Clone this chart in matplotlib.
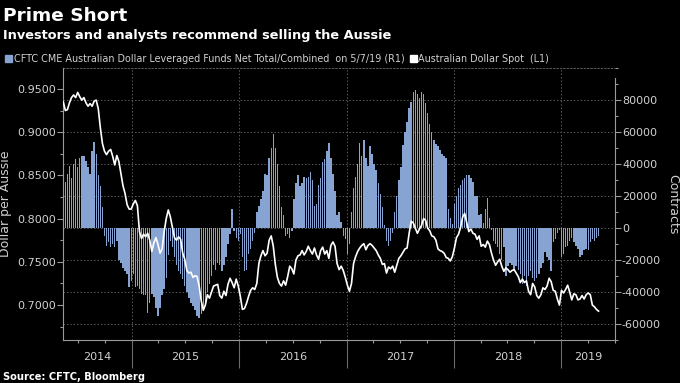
import matplotlib
matplotlib.use('Agg')
import matplotlib.pyplot as plt
import matplotlib.dates as mdates
import matplotlib.ticker as mticker
import matplotlib.patches as mpatches
import matplotlib.transforms as mtrans
import pandas as pd

# ---------------- data ----------------
start_date = '2014-05-13'
end_date = '2019-05-07'

contracts = [
    32000, 29000, 34000, 39000, 31000, 40000, 43000, 38000, 44000, 45000,
    45000, 42000, 38000, 34000, 48000, 54000, 46000, 33000, 26000, 13000,
    -5000, -11000, -9000, -12000, -10000, -12000, -8000, -20000, -22000, -25000,
    -27000, -29000, -37000, -33000, -29000, -37000, -36000, -38000, -41000, -42000,
    -42000, -53000, -47000, -41000, -43000, -50000, -55000, -50000, -42000, -38000,
    -31000, -17000, -8000, -12000, -18000,
    -23000, -27000, -29000, -32000, -36000, -40000, -44000, -47000, -49000, -51000,
    -55000, -56000, -54000, -52000, -47000, -40000, -35000, -30000, -23000, -26000,
    -22000, -23000, -27000, -23000, -18000, -10000, -4000, 12000, -2000, -6000,
    -8000, -4000, -18000, -27000, -26000, -16000, -13000, -8000, -3000, 10000,
    14000, 18000, 23000, 34000, 33000, 44000, 50000, 59000, 50000, 40000,
    26000, 13000, 8000,
    -5000, -4000, -6000, -2000, 18000, 28000, 33000, 26000, 28000, 32000,
    31000, 32000, 35000, 30000, 14000, 15000, 27000, 31000, 41000, 43000,
    48000, 53000, 44000, 34000, 23000, 8000, 10000, 4000, -5000, -7000,
    -16000, -10000, 10000, 25000, 32000, 40000, 53000, 45000, 55000, 44000,
    39000, 51000, 46000, 40000, 36000, 28000, 21000, 13000, 2000, -8000,
    -11000, -8000, -3000,
    10000, 20000, 30000, 38000, 52000, 60000, 66000, 75000, 79000, 85000,
    86000, 84000, 81000, 85000, 84000, 78000, 72000, 65000, 60000, 55000,
    52500, 51000, 49000, 46000, 45000, 44000, 12000, 6000, 2500, 15000,
    20000, 25000, 27000, 30000, 31000, 33000, 33000, 31000, 29000, 20000,
    20000, 8000, 9000, 3000, 12000, 19000, 6000, -1000, -8000, -10000,
    -12000, -16000, -20000,
    -12000, -30000, -24000, -22000, -23000, -27000, -24000, -26000, -29000, -35000,
    -30000, -36000, -30000, -27000, -31000, -33000, -31000, -29000, -25000, -22000,
    -15000, -18000, -20000, -27000, -9000, -7000, -3000, -1000, -18000, -16000,
    -12000, -11000, -8000, -6000, -9000, -11000, -13000, -18000, -17000, -14000,
    -13000, -14000, -9000, -7000, -8000, -6000, -5000,
]

aud_spot = [
    0.935, 0.925, 0.926, 0.934, 0.940, 0.943, 0.940, 0.946, 0.941, 0.937,
    0.940, 0.934, 0.930, 0.933, 0.930, 0.936, 0.937, 0.927, 0.905, 0.887,
    0.878, 0.874, 0.878, 0.880, 0.872, 0.862, 0.873, 0.866, 0.852, 0.838,
    0.829, 0.816, 0.811, 0.811, 0.817, 0.821, 0.815, 0.785, 0.777, 0.782,
    0.779, 0.783, 0.775, 0.762, 0.772, 0.778, 0.770, 0.760, 0.765, 0.785,
    0.800, 0.810, 0.802, 0.790, 0.778,
    0.775, 0.779, 0.776, 0.760, 0.753, 0.740, 0.737, 0.738, 0.732, 0.734,
    0.733, 0.722, 0.705, 0.694, 0.700, 0.712, 0.708, 0.715, 0.722, 0.723,
    0.724, 0.711, 0.708, 0.716, 0.711, 0.724, 0.731, 0.726, 0.720, 0.730,
    0.722, 0.710, 0.695, 0.696, 0.702, 0.710, 0.717, 0.720, 0.718, 0.725,
    0.748, 0.757, 0.763, 0.757, 0.760, 0.775, 0.780, 0.768, 0.747, 0.732,
    0.725, 0.722, 0.728,
    0.723, 0.733, 0.745, 0.742, 0.736, 0.752, 0.757, 0.758, 0.763, 0.758,
    0.762, 0.768, 0.763, 0.759, 0.766, 0.758, 0.753, 0.763, 0.767, 0.759,
    0.763, 0.754, 0.769, 0.773, 0.768, 0.748, 0.741, 0.745, 0.740, 0.732,
    0.723, 0.716, 0.725, 0.748, 0.756, 0.762, 0.766, 0.769, 0.771, 0.764,
    0.769, 0.771, 0.769, 0.766, 0.763, 0.758, 0.754, 0.747, 0.748, 0.737,
    0.744, 0.742, 0.745,
    0.738, 0.746, 0.754, 0.757, 0.761, 0.765, 0.766, 0.783, 0.797, 0.795,
    0.789, 0.783, 0.788, 0.792, 0.800, 0.798, 0.789, 0.786, 0.780, 0.779,
    0.775, 0.765, 0.763, 0.762, 0.760, 0.755, 0.754, 0.751, 0.756, 0.766,
    0.778, 0.782, 0.790, 0.802, 0.806, 0.795, 0.785, 0.788, 0.783, 0.782,
    0.776, 0.780, 0.768, 0.770, 0.767, 0.774, 0.770, 0.760, 0.752, 0.746,
    0.750, 0.753, 0.745,
    0.739, 0.743, 0.741, 0.738, 0.740, 0.741, 0.737, 0.733, 0.726, 0.730,
    0.726, 0.728, 0.716, 0.712, 0.725, 0.721, 0.711, 0.708, 0.712, 0.720,
    0.718, 0.722, 0.731, 0.727, 0.717, 0.716, 0.707, 0.700, 0.717, 0.714,
    0.718, 0.723, 0.715, 0.706, 0.713, 0.712, 0.706, 0.707, 0.711, 0.707,
    0.712, 0.714, 0.712, 0.700, 0.698, 0.695, 0.693,
]

years = ['2014', '2015', '2016', '2017', '2018', '2019']

title = 'Prime Short'
subtitle = 'Investors and analysts recommend selling the Aussie'
legend_bar = 'CFTC CME Australian Dollar Leveraged Funds Net Total/Combined  on 5/7/19 (R1)'
legend_line = 'Australian Dollar Spot  (L1)'
source = 'Source: CFTC, Bloomberg'

# ---------------- style ----------------
BG = '#000000'
BAR = '#86a3d2'
GRID = '#5a5a5a'
AXC = '#9a9a9a'
TXT = '#d0d0d0'

dates = pd.date_range(start_date, end_date, freq='7D')

fig = plt.figure(figsize=(6.8, 3.83), dpi=100, facecolor=BG)
W, H = 680, 383
ax = fig.add_axes([63 / W, 43 / H, 552 / W, 272 / H])   # contracts (right axis)
ax.set_facecolor(BG)
ax2 = ax.twinx()                                         # AUD spot (left axis)
ax.yaxis.tick_right()
ax.yaxis.set_label_position('right')
ax2.yaxis.tick_left()
ax2.yaxis.set_label_position('left')

ax.bar(dates, contracts, width=4.8, color=BAR, linewidth=0, zorder=2)
ax2.plot(dates, aud_spot, color='white', lw=1.2, solid_joinstyle='round', zorder=3)

x0 = pd.Timestamp('2014-05-12')
x1 = pd.Timestamp('2019-07-02')
ax.set_xlim(x0, x1)
ax.set_ylim(-70000, 100000)
ax2.set_ylim(0.6596, 0.9742)

# right axis ticks
ax.yaxis.set_major_locator(mticker.FixedLocator([-60000, -40000, -20000, 0, 20000, 40000, 60000, 80000]))
ax.yaxis.set_minor_locator(mticker.MultipleLocator(10000))
ax.yaxis.set_major_formatter(mticker.FuncFormatter(lambda v, p: '%d' % v))
ax.tick_params(axis='y', which='major', direction='out', length=4, width=0.8,
               color=AXC, labelcolor=TXT, labelsize=8, pad=1)
ax.tick_params(axis='y', which='minor', direction='out', length=2.5, width=0.8, color=AXC)
ax.set_ylabel('Contracts', color=TXT, fontsize=9, rotation=270, labelpad=13)

# left axis ticks
ax2.yaxis.set_major_locator(mticker.MultipleLocator(0.05))
ax2.yaxis.set_minor_locator(mticker.MultipleLocator(0.025))
ax2.yaxis.set_major_formatter(mticker.FormatStrFormatter('%.4f'))
ax2.tick_params(axis='y', which='major', direction='out', length=4, width=0.8,
                color=AXC, labelcolor=TXT, labelsize=8, pad=1)
ax2.tick_params(axis='y', which='minor', direction='out', length=2.5, width=0.8, color=AXC)
ax2.set_ylabel('Dollar per Aussie', color=TXT, fontsize=9, labelpad=4)

# x axis: year separators + quarterly ticks
ax.xaxis.set_major_locator(mdates.YearLocator())
ax.xaxis.set_minor_locator(mdates.MonthLocator(bymonth=[4, 7, 10]))
ax.xaxis.set_major_formatter(mticker.NullFormatter())
ax.tick_params(axis='x', which='major', direction='out', length=20, width=0.8, color='#6a6a6a')
ax.tick_params(axis='x', which='minor', direction='out', length=2.5, width=0.8, color=AXC)

ax.grid(axis='y', which='major', color=GRID, linestyle=(0, (1.5, 2)), linewidth=0.7)
ax.grid(axis='x', which='major', color=GRID, linestyle=(0, (1.5, 2)), linewidth=0.7)
ax.set_axisbelow(True)

ax.spines['left'].set_visible(False)
ax.spines['top'].set_color(GRID)
ax.spines['top'].set_linestyle((0, (1.5, 2)))
ax.spines['top'].set_linewidth(0.7)
ax.spines['right'].set_color(AXC)
ax.spines['right'].set_bounds(-70000, 94000)
ax.spines['bottom'].set_color(AXC)
for s in ['right', 'top', 'bottom']:
    ax2.spines[s].set_visible(False)
ax2.spines['left'].set_color(AXC)

# year labels centred in each visible year span
trans = mtrans.blended_transform_factory(ax.transData, ax.transAxes)
for y in years:
    a = max(pd.Timestamp(y + '-01-01'), x0)
    b = min(pd.Timestamp(str(int(y) + 1) + '-01-01'), x1)
    mid = a + (b - a) / 2
    ax.text(mid, -0.062, y, transform=trans, ha='center', va='center',
            color=TXT, fontsize=8, clip_on=False)

# titles
fig.text(3 / W, 1 - 20.7 / H, title, color='white', fontsize=13.3,
         fontweight='bold', va='baseline', ha='left')
fig.text(3 / W, 1 - 39.5 / H, subtitle, color='white', fontsize=9.3,
         fontweight='bold', va='baseline', ha='left')

# legend
fig.patches.append(mpatches.Rectangle((5 / W, 1 - 62 / H), 7 / W, 7 / H,
                                      transform=fig.transFigure, color=BAR))
fig.text(14 / W, 1 - 58.5 / H, legend_bar, color=TXT, fontsize=6.9,
         va='center', ha='left')
fig.patches.append(mpatches.Rectangle((410 / W, 1 - 62 / H), 7 / W, 7 / H,
                                      transform=fig.transFigure, color='white'))
fig.text(418 / W, 1 - 58.5 / H, legend_line, color=TXT, fontsize=6.9,
         va='center', ha='left')

# source
fig.text(3 / W, 1 - 380 / H, source, color='white', fontsize=7.1,
         fontweight='bold', va='baseline', ha='left')

fig.savefig('out.png', dpi=100, facecolor=BG)
